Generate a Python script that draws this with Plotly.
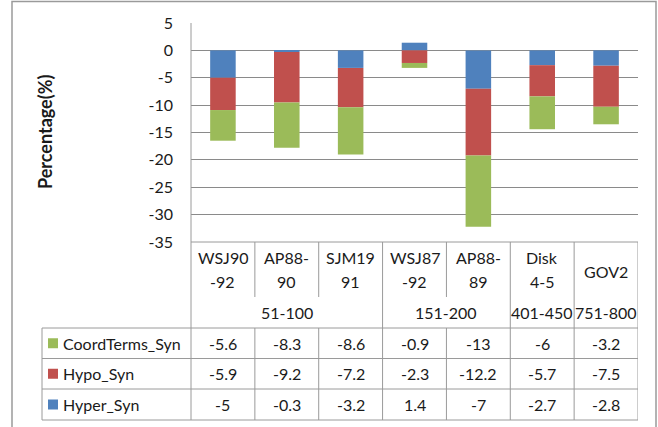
import plotly.graph_objects as go

# ---------------- data ----------------
categories = ["WSJ90-92", "AP88-90", "SJM1991", "WSJ87-92", "AP88-89", "Disk4-5", "GOV2"]
cat_line1 = ["WSJ90", "AP88-", "SJM19", "WSJ87", "AP88-", "Disk", "GOV2"]
cat_line2 = ["-92", "90", "91", "-92", "89", "4-5", ""]
groups = ["51-100", "151-200", "401-450", "751-800"]
group_sizes = [3, 2, 1, 1]

hyper_syn = [-5, -0.3, -3.2, 1.4, -7, -2.7, -2.8]
hypo_syn = [-5.9, -9.2, -7.2, -2.3, -12.2, -5.7, -7.5]
coord_syn = [-5.6, -8.3, -8.6, -0.9, -13, -6, -3.2]

series_names = ["Hyper_Syn", "Hypo_Syn", "CoordTerms_Syn"]
series_vals = [hyper_syn, hypo_syn, coord_syn]
colors = ["#4F81BD", "#C0504D", "#9BBB59"]

y_ticks = [5, 0, -5, -10, -15, -20, -25, -30, -35]

# ---------------- layout geometry ----------------
W, H = 658, 427
L, R, T, B = 191, 638, 23, 242
FONT = "Lato"
GRID = "#8a8a8a"
LINEC = "#9a9a9a"
TXT = "#1a1a1a"


def px(x):
    return (x - L) / (R - L)


def py(y):
    return (B - y) / (B - T)


def label(x, y, text, xref="x", xanchor="center", size=16, **kw):
    return dict(x=x, y=y, xref=xref, yref="paper", text=text, showarrow=False,
                xanchor=xanchor, yanchor="middle",
                font=dict(size=size, color=TXT, family=FONT), **kw)


fig = go.Figure()
for name, vals, col in zip(series_names, series_vals, colors):
    fig.add_trace(go.Bar(
        x=list(range(len(categories))), y=vals, name=name,
        marker=dict(color=col, line=dict(width=0)),
        width=0.4, showlegend=False,
    ))

shapes = []
annotations = []

# outer chart frame
shapes.append(dict(type="rect", xref="paper", yref="paper",
                   x0=px(12), x1=px(656), y0=py(432), y1=py(1.5),
                   line=dict(color="#9a9a9a", width=1.5), layer="below"))

n = len(categories)
# header row: category labels
for i in range(n):
    if cat_line2[i]:
        annotations.append(label(i, py(257), cat_line1[i]))
        annotations.append(label(i, py(281), cat_line2[i]))
    else:
        annotations.append(label(i, py(271), cat_line1[i]))

# group labels and boundaries
start = 0
group_bounds = set()
for g, s in zip(groups, group_sizes):
    center = start + (s - 1) / 2
    annotations.append(label(center, py(312), g))
    start += s
    group_bounds.add(start)

# vertical lines in header
for b in range(1, n + 1):
    xb = b - 0.5
    if b in group_bounds:
        shapes.append(dict(type="line", xref="x", yref="paper", x0=xb, x1=xb,
                           y0=py(242), y1=py(420), line=dict(color=LINEC, width=1)))
    else:
        shapes.append(dict(type="line", xref="x", yref="paper", x0=xb, x1=xb,
                           y0=py(242), y1=py(297), line=dict(color=LINEC, width=1)))
        shapes.append(dict(type="line", xref="x", yref="paper", x0=xb, x1=xb,
                           y0=py(328), y1=py(420), line=dict(color=LINEC, width=1)))

# left axis line extended down through table
shapes.append(dict(type="line", xref="paper", yref="paper", x0=0, x1=0,
                   y0=py(420), y1=py(23), line=dict(color=LINEC, width=1)))
# bottom of plot (top of header)
shapes.append(dict(type="line", xref="paper", yref="paper", x0=0, x1=1,
                   y0=py(242), y1=py(242), line=dict(color=LINEC, width=1)))
# table rows
row_lines = [328, 358.5, 389, 420]
for yl in row_lines:
    shapes.append(dict(type="line", xref="paper", yref="paper", x0=px(42), x1=1,
                       y0=py(yl), y1=py(yl), line=dict(color=LINEC, width=1)))
shapes.append(dict(type="line", xref="paper", yref="paper", x0=px(42), x1=px(42),
                   y0=py(328), y1=py(420), line=dict(color=LINEC, width=1)))

# table body: rows top-to-bottom CoordTerms, Hypo, Hyper
table_order = [2, 1, 0]
for r, si in enumerate(table_order):
    yc = (row_lines[r] + row_lines[r + 1]) / 2
    shapes.append(dict(type="rect", xref="paper", yref="paper",
                       x0=px(48), x1=px(58), y0=py(yc + 5), y1=py(yc - 5),
                       fillcolor=colors[si], line=dict(width=0)))
    annotations.append(label(px(61), py(yc), series_names[si], xref="paper", xanchor="left"))
    for i, v in enumerate(series_vals[si]):
        annotations.append(label(i, py(yc), f"{v:g}"))

# y-axis title
annotations.append(label(px(45), py(132), "<b>Percentage(%)</b>", xref="paper",
                         size=18, textangle=-90))

fig.update_layout(
    width=W, height=H,
    margin=dict(l=L, r=W - R, t=T, b=H - B, pad=0),
    barmode="relative",
    paper_bgcolor="white", plot_bgcolor="white",
    shapes=shapes, annotations=annotations,
    font=dict(family=FONT, size=16, color=TXT),
    xaxis=dict(range=[-0.5, n - 0.5], showticklabels=False, showgrid=False,
               zeroline=False, showline=False, ticks=""),
    yaxis=dict(range=[-35, 5], tickvals=y_ticks, ticktext=[str(t) for t in y_ticks],
               showgrid=True, gridcolor=GRID, gridwidth=1, zeroline=False,
               showline=False, ticks="", ticklabelstandoff=17,
               tickfont=dict(size=16, color=TXT, family=FONT)),
)

fig.write_html("out.html", config={"displayModeBar": False},
               post_script="document.body.style.margin='0px';")
